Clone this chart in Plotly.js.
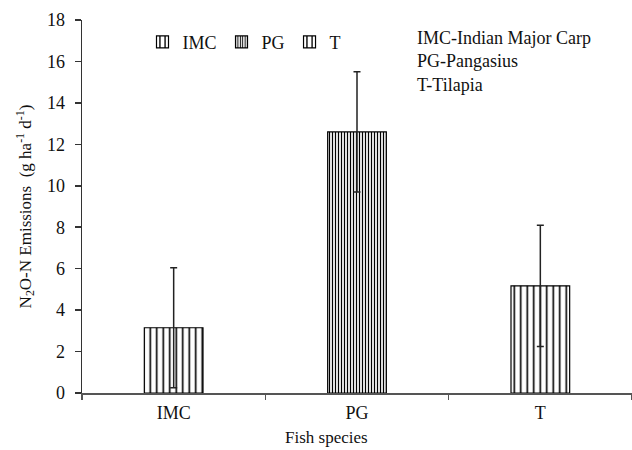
<!DOCTYPE html>
<html>
<head>
<meta charset="utf-8">
<script src="https://cdn.plot.ly/plotly-3.0.1.min.js"></script>
<style>html,body{margin:0;padding:0;background:#fff;}#chart{width:632px;height:450px;}</style>
</head>
<body>
<div id="chart"></div>
<script>
var categories = ["IMC", "PG", "T"];
var means = [3.15, 12.6, 5.17];
var errors = [2.9, 2.9, 2.93];
var legendNames = ["IMC", "PG", "T"];
var noteLines = ["IMC-Indian Major Carp", "PG-Pangasius", "T-Tilapia"];
var xTitle = "Fish species";
var yTitle = "N<sub>2</sub>O-N Emissions  (g ha<sup>-1</sup> d<sup>-1</sup>)";

var patternSizes = [6.5, 3, 6.5];
var patternSolid = [0.25, 0.42, 0.25];

var traces = categories.map(function (c, i) {
  return {
    type: "bar",
    name: legendNames[i],
    x: [c],
    y: [means[i]],
    width: 0.32,
    marker: {
      color: "#ffffff",
      line: {color: "#000", width: 1.2},
      pattern: {shape: "|", size: patternSizes[i], solidity: patternSolid[i], fgcolor: "#000", bgcolor: "#ffffff", fgopacity: 1, fillmode: "overlay"}
    },
    error_y: {type: "data", array: [errors[i]], visible: true, color: "#222", thickness: 1.5, width: 3.5}
  };
});

var font = "Liberation Serif";
var layout = {
  width: 632, height: 450,
  margin: {l: 82, r: 0, t: 20, b: 57},
  paper_bgcolor: "#fff", plot_bgcolor: "#fff",
  barmode: "overlay",
  font: {family: font, size: 16, color: "#111"},
  showlegend: true,
  legend: {orientation: "h", x: 0.11, y: 0.99, xanchor: "left", yanchor: "top",
           font: {family: font, size: 18, color: "#111"}, itemwidth: 30, tracegroupgap: 0,
           bgcolor: "rgba(0,0,0,0)"},
  xaxis: {
    type: "category", range: [-0.5, 2.5],
    showline: true, linecolor: "#555", linewidth: 2,
    ticks: "outside", tickson: "boundaries", ticklen: 5, tickcolor: "#555", tickwidth: 1.5,
    showgrid: false, zeroline: false,
    tickfont: {family: font, size: 18, color: "#111"}, ticklabelstandoff: 2
  },
  yaxis: {
    range: [0, 18], dtick: 2, tick0: 0,
    showline: true, linecolor: "#333", linewidth: 1.5,
    ticks: "outside", ticklen: 6, tickcolor: "#333", tickwidth: 1.5,
    showgrid: false, zeroline: false,
    tickfont: {family: font, size: 18, color: "#111"}, ticklabelstandoff: 6,
    title: {text: yTitle, font: {family: font, size: 17, color: "#111"}, standoff: 11}
  },
  annotations: [{
    xref: "paper", yref: "paper", x: 0.605, y: 0.985, xanchor: "left", yanchor: "top",
    text: noteLines.join("<br>"), showarrow: false, align: "left",
    font: {family: font, size: 18, color: "#111"}
  }, {
    xref: "paper", yref: "paper", x: 0.445, y: -0.118, xanchor: "center", yanchor: "middle",
    text: xTitle, showarrow: false,
    font: {family: font, size: 17, color: "#111"}
  }]
};

Plotly.newPlot("chart", traces, layout, {displayModeBar: false, staticPlot: true});
</script>
</body>
</html>
